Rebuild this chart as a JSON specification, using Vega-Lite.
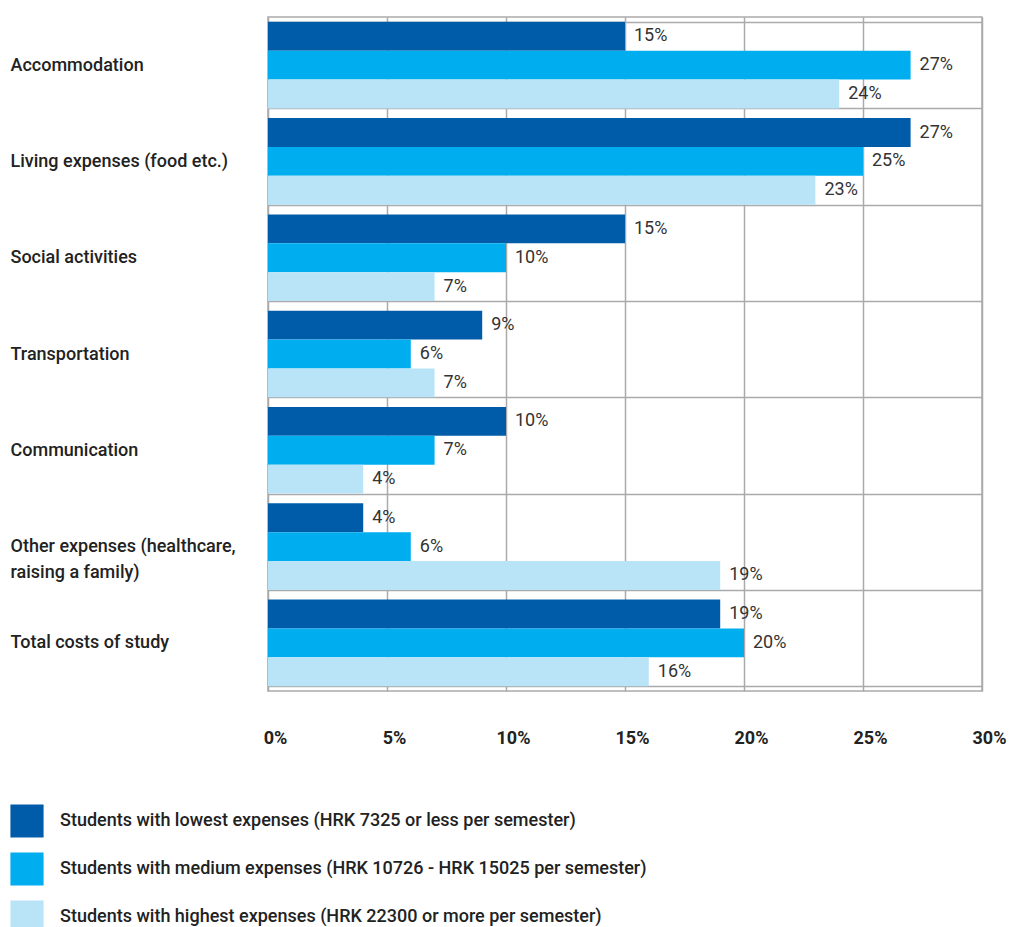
{
  "$schema": "https://vega.github.io/schema/vega-lite/v6.json",
  "width": 714,
  "height": 674,
  "padding": {"left": 10, "top": 8, "right": 5, "bottom": 5},
  "config": {
    "font": "Roboto",
    "view": {"stroke": "#aaaaaa", "strokeWidth": 1.5}
  },
  "data": {
    "values": [
      {"category": "Accommodation", "group": "Students with lowest expenses (HRK 7325 or less per semester)", "value": 0.15},
      {"category": "Accommodation", "group": "Students with medium expenses (HRK 10726 - HRK 15025 per semester)", "value": 0.27},
      {"category": "Accommodation", "group": "Students with highest expenses (HRK 22300 or more per semester)", "value": 0.24},
      {"category": "Living expenses (food etc.)", "group": "Students with lowest expenses (HRK 7325 or less per semester)", "value": 0.27},
      {"category": "Living expenses (food etc.)", "group": "Students with medium expenses (HRK 10726 - HRK 15025 per semester)", "value": 0.25},
      {"category": "Living expenses (food etc.)", "group": "Students with highest expenses (HRK 22300 or more per semester)", "value": 0.23},
      {"category": "Social activities", "group": "Students with lowest expenses (HRK 7325 or less per semester)", "value": 0.15},
      {"category": "Social activities", "group": "Students with medium expenses (HRK 10726 - HRK 15025 per semester)", "value": 0.10},
      {"category": "Social activities", "group": "Students with highest expenses (HRK 22300 or more per semester)", "value": 0.07},
      {"category": "Transportation", "group": "Students with lowest expenses (HRK 7325 or less per semester)", "value": 0.09},
      {"category": "Transportation", "group": "Students with medium expenses (HRK 10726 - HRK 15025 per semester)", "value": 0.06},
      {"category": "Transportation", "group": "Students with highest expenses (HRK 22300 or more per semester)", "value": 0.07},
      {"category": "Communication", "group": "Students with lowest expenses (HRK 7325 or less per semester)", "value": 0.10},
      {"category": "Communication", "group": "Students with medium expenses (HRK 10726 - HRK 15025 per semester)", "value": 0.07},
      {"category": "Communication", "group": "Students with highest expenses (HRK 22300 or more per semester)", "value": 0.04},
      {"category": "Other expenses (healthcare, raising a family)", "group": "Students with lowest expenses (HRK 7325 or less per semester)", "value": 0.04},
      {"category": "Other expenses (healthcare, raising a family)", "group": "Students with medium expenses (HRK 10726 - HRK 15025 per semester)", "value": 0.06},
      {"category": "Other expenses (healthcare, raising a family)", "group": "Students with highest expenses (HRK 22300 or more per semester)", "value": 0.19},
      {"category": "Total costs of study", "group": "Students with lowest expenses (HRK 7325 or less per semester)", "value": 0.19},
      {"category": "Total costs of study", "group": "Students with medium expenses (HRK 10726 - HRK 15025 per semester)", "value": 0.20},
      {"category": "Total costs of study", "group": "Students with highest expenses (HRK 22300 or more per semester)", "value": 0.16}
    ]
  },
  "encoding": {
    "y": {
      "field": "category",
      "type": "nominal",
      "sort": ["Accommodation", "Living expenses (food etc.)", "Social activities", "Transportation", "Communication", "Other expenses (healthcare, raising a family)", "Total costs of study"],
      "scale": {"paddingInner": 0.1, "paddingOuter": 0.05},
      "axis": {
        "title": null,
        "labelAlign": "left",
        "labelPadding": 258,
        "tickSize": 0,
        "ticks": false,
        "domain": false,
        "grid": true,
        "tickBand": "extent",
        "gridColor": "#aaaaaa",
        "gridWidth": 1.5,
        "gridOpacity": 1,
        "labelFontSize": 18,
        "labelFontWeight": 500,
        "labelColor": "#222222",
        "labelLimit": 300,
        "labelLineHeight": 26,
        "labelExpr": "datum.label == 'Other expenses (healthcare, raising a family)' ? ['Other expenses (healthcare,', 'raising a family)'] : datum.label"
      }
    },
    "yOffset": {
      "field": "group",
      "type": "nominal",
      "sort": ["Students with lowest expenses (HRK 7325 or less per semester)", "Students with medium expenses (HRK 10726 - HRK 15025 per semester)", "Students with highest expenses (HRK 22300 or more per semester)"],
      "scale": {"paddingInner": 0, "paddingOuter": 0}
    },
    "x": {
      "field": "value",
      "type": "quantitative",
      "scale": {"domain": [0, 0.3], "nice": false},
      "axis": {
        "title": null,
        "values": [0, 0.05, 0.1, 0.15, 0.2, 0.25, 0.3],
        "format": ".0%",
        "labelPadding": 38,
        "labelFontSize": 18,
        "labelFontWeight": "bold",
        "labelColor": "#222222",
        "labelOffset": 7,
        "labelFlush": false,
        "ticks": false,
        "domain": false,
        "grid": true,
        "gridColor": "#aaaaaa",
        "gridWidth": 1.5,
        "gridOpacity": 1
      }
    }
  },
  "layer": [
    {
      "mark": {"type": "bar"},
      "encoding": {
        "color": {
          "field": "group",
          "type": "nominal",
          "sort": ["Students with lowest expenses (HRK 7325 or less per semester)", "Students with medium expenses (HRK 10726 - HRK 15025 per semester)", "Students with highest expenses (HRK 22300 or more per semester)"],
          "scale": {
            "domain": ["Students with lowest expenses (HRK 7325 or less per semester)", "Students with medium expenses (HRK 10726 - HRK 15025 per semester)", "Students with highest expenses (HRK 22300 or more per semester)"],
            "range": ["#005ca9", "#00aeef", "#b9e4f8"]
          },
          "legend": {
            "title": null,
            "orient": "none",
            "legendX": -258,
            "legendY": 787,
            "direction": "vertical",
            "padding": 0,
            "symbolType": "square",
            "symbolSize": 1100,
            "symbolStrokeWidth": 0,
            "symbolOpacity": 1,
            "labelFontSize": 18,
            "labelFontWeight": 500,
            "labelColor": "#222222",
            "labelOffset": 16,
            "labelLimit": 800,
            "rowPadding": 14
          }
        }
      }
    },
    {
      "mark": {"type": "text", "align": "left", "baseline": "middle", "dx": 9, "fontSize": 18, "color": "#333333"},
      "encoding": {
        "text": {"field": "value", "type": "quantitative", "format": ".0%"}
      }
    }
  ]
}
